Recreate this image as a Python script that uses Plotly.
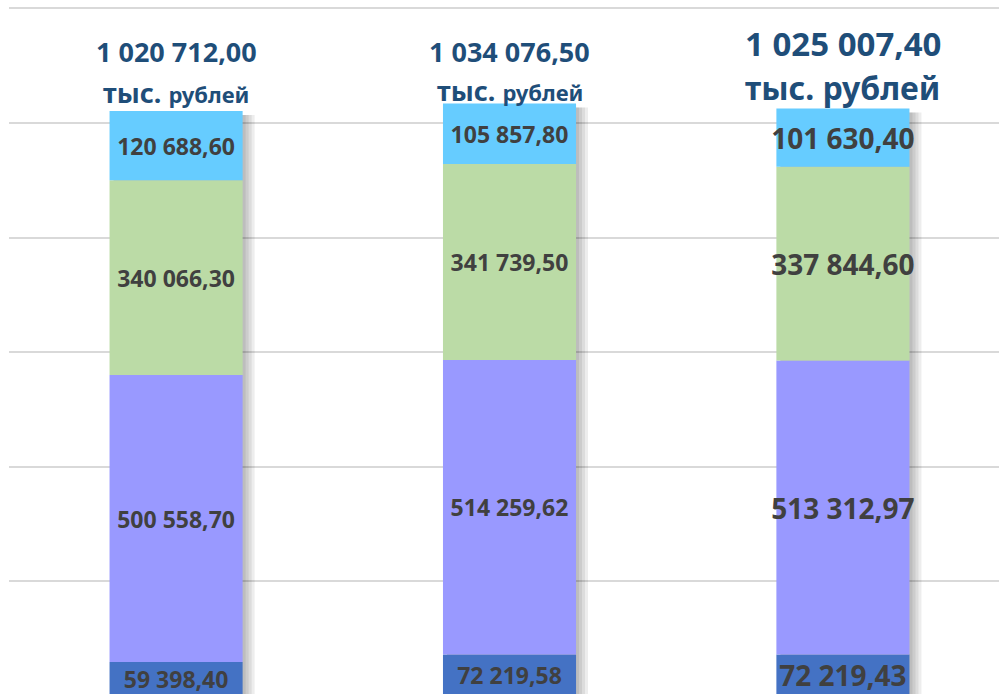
import plotly.graph_objects as go

categories = [0, 1, 2]
seg_bottom = [59398.40, 72219.58, 72219.43]
seg_purple = [500558.70, 514259.62, 513312.97]
seg_green = [340066.30, 341739.50, 337844.60]
seg_top = [120688.60, 105857.80, 101630.40]
totals = [1020712.00, 1034076.50, 1025007.40]
unit_label = "тыс."
unit_word = "рублей"

def fmt(v):
    return f"{v:,.2f}".replace(",", " ").replace(".", ",")

series = [
    (seg_bottom, "#4472C4"),
    (seg_purple, "#9999FF"),
    (seg_green, "#BBDBA6"),
    (seg_top, "#66CCFF"),
]

PX = 333.25          # px per category unit
BW = 133 / PX        # bar width
label_sizes = [23, 23, 28]
title_sizes = [27, 27, 33]
unit_big = [27, 27, 32]
unit_small = [22, 22, 32]
line1_shift = [60, 52, 65]
line2_shift = [19, 13, 21]

fig = go.Figure()

# soft shadow to the right of each bar
shadow_drop = 4 * 1745
for k in [3, 6, 9, 12]:
    fig.add_trace(go.Bar(
        x=categories, y=[t - shadow_drop for t in totals], base=[0, 0, 0],
        width=(BW - 4 / PX + k / PX), offset=-BW / 2 + 4 / PX,
        marker=dict(color="rgba(0,0,0,0.07)", line=dict(width=0)),
        hoverinfo="skip", showlegend=False,
    ))

base = [0.0, 0.0, 0.0]
for vals, col in series:
    fig.add_trace(go.Bar(
        x=categories, y=vals, base=list(base), width=BW,
        marker=dict(color=col, line=dict(width=0)),
        text=[fmt(v) for v in vals], textposition="inside",
        insidetextanchor="middle", constraintext="none", textangle=0,
        textfont=dict(family="Noto Sans", size=label_sizes, color="#404040", weight=700),
        showlegend=False,
    ))
    base = [b + v for b, v in zip(base, vals)]

for i, c in enumerate(categories):
    fig.add_annotation(
        x=c, y=totals[i], xref="x", yref="y", yanchor="middle",
        yshift=line1_shift[i], showarrow=False,
        text=f"<b>{fmt(totals[i])}</b>",
        font=dict(family="Noto Sans", size=title_sizes[i], color="#1F4E79"),
    )
    fig.add_annotation(
        x=c, y=totals[i], xref="x", yref="y", yanchor="middle",
        yshift=line2_shift[i], showarrow=False,
        text=f"<b>{unit_label} <span style='font-size:{unit_small[i]}px'>{unit_word}</span></b>",
        font=dict(family="Noto Sans", size=unit_big[i], color="#1F4E79"),
    )

fig.update_layout(
    width=999, height=694,
    margin=dict(l=9, r=0, t=0, b=0),
    paper_bgcolor="white", plot_bgcolor="white",
    barmode="overlay",
    xaxis=dict(range=[-167 / PX, 2 + 156 / PX], showticklabels=False,
               showgrid=False, zeroline=False, showline=False),
    yaxis=dict(range=[3490, 1214520], dtick=200000, showticklabels=False,
               showgrid=True, gridcolor="#D9D9D9", gridwidth=2,
               zeroline=False, showline=False),
)

fig.write_html("out.html", config={"displayModeBar": False},
               post_script="document.body.style.margin='0px';document.body.style.overflow='hidden';")
